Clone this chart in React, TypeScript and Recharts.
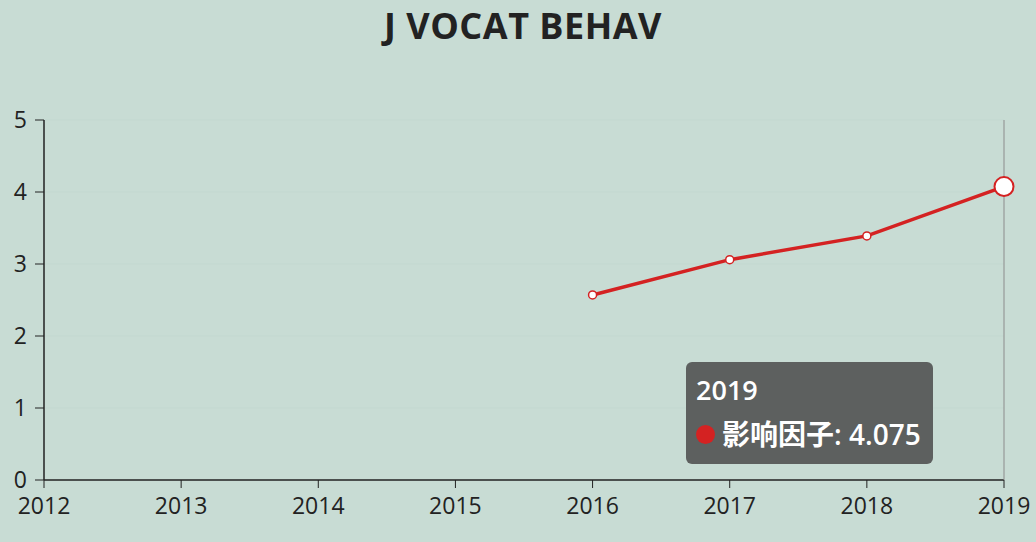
import { CartesianGrid, Line, LineChart, Tooltip, XAxis, YAxis } from "recharts"

const years = ["2012", "2013", "2014", "2015", "2016", "2017", "2018", "2019"]
const impactFactor = [null, null, null, null, 2.57, 3.06, 3.39, 4.075]
const yTicks = [0, 1, 2, 3, 4, 5]

const data = years.map((year, i) => ({ year, value: impactFactor[i] }))

const RED = "#d42222"
const FONT = "'Open Sans', 'Noto Sans CJK SC', sans-serif"

function TipBox({ active, payload, label }: any) {
  if (!active || !payload || !payload.length) return null
  return (
    <div
      style={{
        width: 247,
        height: 102,
        boxSizing: "border-box",
        background: "rgba(88,91,90,0.96)",
        borderRadius: 6,
        color: "#fff",
        padding: "11px 10px",
        fontFamily: FONT,
        fontWeight: 600,
      }}
    >
      <div style={{ fontSize: 27, lineHeight: "34px" }}>{label}</div>
      <div style={{ display: "flex", alignItems: "center", marginTop: 9, fontSize: 28, lineHeight: "36px" }}>
        <span
          style={{
            display: "inline-block",
            width: 19,
            height: 19,
            borderRadius: "50%",
            background: RED,
            marginRight: 7,
          }}
        />
        影响因子: {payload[0].value}
      </div>
    </div>
  )
}

export default function App() {
  return (
    <div
      style={{
        position: "fixed",
        left: 0,
        top: 0,
        width: 1036,
        height: 542,
        background: "#c8dcd4",
        fontFamily: FONT,
      }}
    >
      <div
        style={{
          position: "absolute",
          top: 0,
          left: 0,
          width: 1046,
          textAlign: "center",
          fontSize: 36,
          fontWeight: 700,
          letterSpacing: 0.5,
          color: "#222",
          lineHeight: "52px",
        }}
      >
        J VOCAT BEHAV
      </div>
      <LineChart
        width={1036}
        height={542}
        data={data}
        margin={{ top: 120, right: 32, left: 0, bottom: 22 }}
      >
        <CartesianGrid vertical={false} stroke="#c3d8d0" strokeWidth={1} />
        <XAxis
          dataKey="year"
          height={40}
          tick={{ fill: "#222", fontSize: 23 }}
          tickLine={{ stroke: "#222" }}
          tickSize={8}
          axisLine={{ stroke: "#222", strokeWidth: 1.5 }}
          tickMargin={10}
          interval={0}
        />
        <YAxis
          width={44}
          domain={[0, 5]}
          ticks={yTicks}
          tick={{ fill: "#222", fontSize: 23 }}
          tickLine={{ stroke: "#222" }}
          tickSize={9}
          tickMargin={8}
          axisLine={{ stroke: "#222", strokeWidth: 1.5 }}
        />
        <Tooltip
          active
          defaultIndex={7}
          content={<TipBox />}
          position={{ x: 686, y: 362 }}
          cursor={{ stroke: "#8c8c8c", strokeWidth: 1 }}
          isAnimationActive={false}
          wrapperStyle={{ outline: "none" }}
        />
        <Line
          type="linear"
          dataKey="value"
          stroke={RED}
          strokeWidth={3.5}
          dot={{ r: 4, fill: "#fff", stroke: RED, strokeWidth: 1.5 }}
          activeDot={{ r: 9.5, fill: "#fff", stroke: RED, strokeWidth: 2 }}
          isAnimationActive={false}
        />
      </LineChart>
    </div>
  )
}
